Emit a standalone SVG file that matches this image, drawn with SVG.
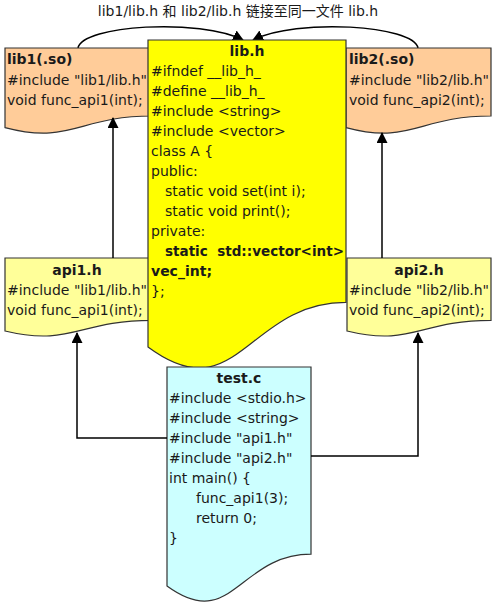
<svg xmlns="http://www.w3.org/2000/svg" width="494" height="606" viewBox="0 0 494 606">
<style>
text{font-family:"DejaVu Sans","Noto Sans CJK SC",sans-serif;font-size:14px;fill:#1a1a1a;white-space:pre}
.t{font-weight:bold}
.c{text-anchor:middle}
.doc{stroke:#333;stroke-width:1.2}
.conn{fill:none;stroke:#000;stroke-width:1.5}
</style>
<defs>
<marker id="ah" markerUnits="userSpaceOnUse" markerWidth="11" markerHeight="11" refX="10" refY="5.5" orient="auto" viewBox="0 0 11 11">
<path d="M0,0 L11,5.5 L0,11 z" fill="#000"/>
</marker>
</defs>
<rect width="494" height="606" fill="#fff"/>
<text x="238" y="16" class="c">lib1/lib.h 和 lib2/lib.h 链接至同一文件 lib.h</text>

<g id="connectors">
<path class="conn" d="M78,48 C82,25 200,18 243,40" marker-end="url(#ah)"/>
<path class="conn" d="M418,48 C414,25 296,18 253,40" marker-end="url(#ah)"/>
</g>

<g id="lib1">
<path class="doc" fill="#FFCC99" d="M5,48 H152 V116 C78.5,116 71,145 5,127.6 Z"/>
<text x="7" y="64" class="t">lib1(.so)</text>
<text x="7" y="85">#include "lib1/lib.h"</text>
<text x="7" y="105">void func_api1(int);</text>
</g>

<g id="lib2">
<path class="doc" fill="#FFCC99" d="M346,48 H491 V116 C418.5,116 411,145 346,127.6 Z"/>
<text x="349" y="64" class="t">lib2(.so)</text>
<text x="349" y="85">#include "lib2/lib.h"</text>
<text x="349" y="105">void func_api2(int);</text>
</g>

<g id="api1">
<path class="doc" fill="#FFFF99" d="M5,258 H152 V320.4 C78.5,320.4 71,346.8 5,331 Z"/>
<text x="77" y="275" class="t c">api1.h</text>
<text x="7" y="295">#include "lib1/lib.h"</text>
<text x="7" y="315">void func_api1(int);</text>
</g>

<g id="api2">
<path class="doc" fill="#FFFF99" d="M347,258 H491 V320.4 C419,320.4 411.8,346.8 347,331 Z"/>
<text x="419" y="275" class="t c">api2.h</text>
<text x="349" y="295">#include "lib2/lib.h"</text>
<text x="349" y="315">void func_api2(int);</text>
</g>

<g id="lib_h">
<path class="doc" fill="#FFFF00" d="M148,40 H346 V302.4 C247,302.4 237.1,413 148,347 Z"/>
<text x="247" y="56" class="t c">lib.h</text>
<text x="151" y="76">#ifndef __lib_h_</text>
<text x="151" y="96">#define __lib_h_</text>
<text x="151" y="116">#include &lt;string&gt;</text>
<text x="151" y="136">#include &lt;vector&gt;</text>
<text x="151" y="156">class A {</text>
<text x="151" y="176">public:</text>
<text x="165" y="196">static void set(int i);</text>
<text x="165" y="216">static void print();</text>
<text x="151" y="236">private:</text>
<text x="165" y="256" class="t" textLength="179" lengthAdjust="spacingAndGlyphs">static  std::vector&lt;int&gt;</text>
<text x="151" y="276" class="t">vec_int;</text>
<text x="151" y="296">};</text>
</g>

<g id="test_c">
<path class="doc" fill="#CCFFFF" d="M167,367 H311 V554.2 C239,554.2 231.8,633.3 167,586 Z"/>
<text x="239" y="383" class="t c">test.c</text>
<text x="169" y="403">#include &lt;stdio.h&gt;</text>
<text x="169" y="423">#include &lt;string&gt;</text>
<text x="169" y="443">#include "api1.h"</text>
<text x="169" y="463">#include "api2.h"</text>
<text x="169" y="483">int main() {</text>
<text x="196" y="503">func_api1(3);</text>
<text x="196" y="523">return 0;</text>
<text x="169" y="543">}</text>
</g>

<g id="connectors2">
<path class="conn" d="M113,258 V118" marker-end="url(#ah)"/>
<path class="conn" d="M382,258 V133" marker-end="url(#ah)"/>
<path class="conn" d="M167,438 H77 V333" marker-end="url(#ah)"/>
<path class="conn" d="M311,456 H418 V333" marker-end="url(#ah)"/>
</g>
</svg>
